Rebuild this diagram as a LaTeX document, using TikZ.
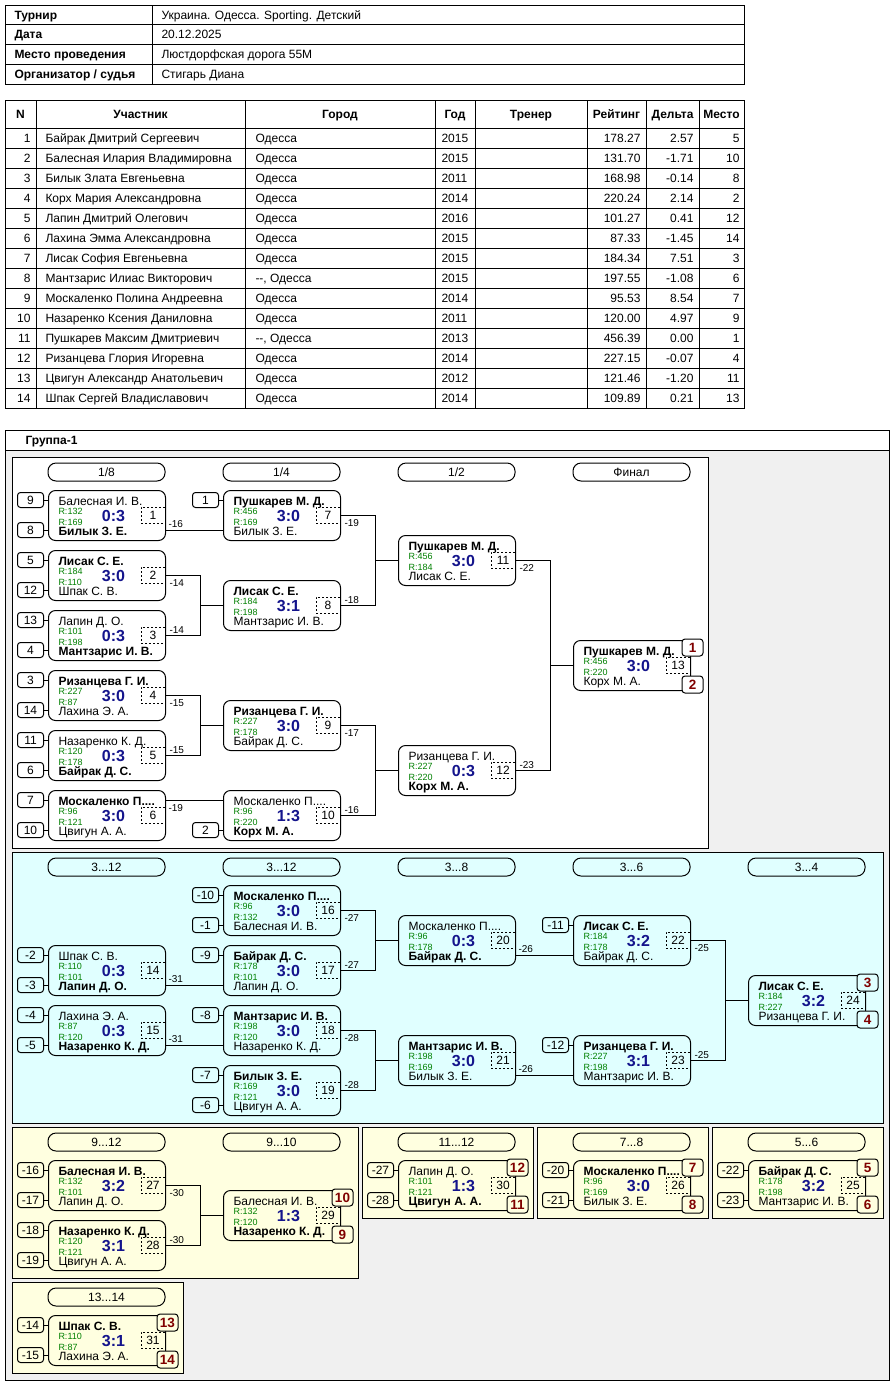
\documentclass[tikz,border=0pt]{standalone}
\usepackage{fontspec}
\setmainfont{Liberation Sans}
\usepackage{xcolor}
\usepackage{tikz}
\usetikzlibrary{positioning}
\definecolor{rgreen}{RGB}{0,128,0}
\definecolor{scoreblue}{RGB}{20,20,140}
\definecolor{placered}{RGB}{128,0,0}
\definecolor{cyanbg}{RGB}{224,255,255}
\definecolor{yellowbg}{RGB}{255,255,224}
\definecolor{groupbg}{RGB}{240,240,240}
\colorlet{secbg}{white}

% one game: name, x, y, top player, bottom player, rating top, rating bottom, score, game number
\newcommand{\match}[9]{%
  \node[game] (#1) at (#2,#3) {};
  \node[who] (#1-a) at ({#2+10},{#3+15}) {#4};
  \node[rate] (#1-ra) at ({#2+10},{#3+24}) {R:#6};
  \node[rate] (#1-rb) at ({#2+10},{#3+35}) {R:#7};
  \node[score] (#1-sc) at ({#2+65.5},{#3+31.7}) {#8};
  \node[numbox] (#1-no) at ({#2+105},{#3+25}) {#9};
  \node[who] (#1-b) at ({#2+10},{#3+45}) {#5};
  \coordinate (#1-tl) at (#2,{#3+10});
  \coordinate (#1-bl) at (#2,{#3+40});
  \coordinate (#1-tr) at ({#2+117},{#3+10});
  \coordinate (#1-br) at ({#2+117},{#3+40});
}
% entry box in front of a game
\newcommand{\seed}[3]{%
  \node[seedbox, left=4pt of #2] (#1) {#3};
  \draw (#1) -- (#2);
}
% final places at the right corners of a game
\newcommand{\places}[5]{%
  \node[placebox] (#2) at ([xshift=1.5pt,yshift=-7.5pt]#1.north east) {#3};
  \node[placebox] (#4) at ([xshift=1.5pt,yshift=6.5pt]#1.south east) {#5};
}

\begin{document}
\begin{tikzpicture}[
    x=1pt, y=-1pt, line width=1pt,
    game/.style={draw, rounded corners=7pt, anchor=north west, minimum width=117pt, minimum height=50pt, inner sep=0pt},
    who/.style={anchor=base west, inner sep=0pt, font=\fontsize{12}{14}\selectfont},
    rate/.style={anchor=base west, inner sep=0pt, text=rgreen, font=\fontsize{9}{10}\selectfont},
    score/.style={anchor=base, inner sep=0pt, text=scoreblue, font=\fontsize{16}{18}\selectfont\bfseries},
    numbox/.style={draw, dash pattern=on 2pt off 2pt, line width=0.8pt, minimum width=24pt, minimum height=16pt, inner sep=0pt, text height=8.6pt, text depth=0pt, font=\fontsize{12}{14}\selectfont},
    seedbox/.style={draw, rounded corners=3pt, minimum width=26pt, minimum height=15pt, inner sep=0pt, text height=8.6pt, text depth=0pt, font=\fontsize{12}{14}\selectfont},
    placebox/.style={draw, fill=secbg, rounded corners=3pt, minimum width=21pt, minimum height=17pt, inner sep=0pt, text height=9.7pt, text depth=0pt, text=placered, font=\fontsize{13.5}{15}\selectfont\bfseries},
    pill/.style={draw, rounded corners=8pt, minimum width=117pt, minimum height=18pt, inner sep=0pt, text height=8.6pt, text depth=0pt, font=\fontsize{12}{14}\selectfont},
    lbl/.style={anchor=base west, inner sep=0pt, font=\fontsize{10}{11}\selectfont},
    lblup/.style={lbl, xshift=3pt, yshift=2.5pt},
    lbldn/.style={lbl, xshift=3pt, yshift=-11pt},
    cell/.style={inner sep=0pt, font=\fontsize{12}{14}\selectfont},
    head/.style={cell, font=\fontsize{12}{14}\selectfont\bfseries}
]
\useasboundingbox (0,0) rectangle (895,1385);

% tournament header
\draw (5,5) rectangle (744,84);
\foreach \yy in {24.75,44.5,64.25} \draw (5,\yy) -- (744,\yy);
\draw (152,5) -- (152,84);
\foreach \k/\lab/\val in {0/Турнир/Украина. Одесса. Sporting. Детский, 1/Дата/20.12.2025,
    2/Место проведения/Люстдорфская дорога 55М, 3/{Организатор / судья}/Стигарь Диана} {
  \node[head, anchor=base west] (hk\k) at (14,{19.2+19.75*\k}) {\lab};
  \node[cell, anchor=base west] (hv\k) at (161,{19.2+19.75*\k}) {\val};
}

% participants
\draw (5,100) rectangle (744,408);
\foreach \k in {0,...,13} \draw (5,{128+20*\k}) -- (744,{128+20*\k});
\foreach \xx in {36,245,435,475,587,646,699} \draw (\xx,100) -- (\xx,408);
\node[head, anchor=base] (th1) at (20.5,118.3) {N};
\node[head, anchor=base] (th2) at (140.5,118.3) {Участник};
\node[head, anchor=base] (th3) at (340,118.3) {Город};
\node[head, anchor=base] (th4) at (455,118.3) {Год};
\node[head, anchor=base] (th5) at (531,118.3) {Тренер};
\node[head, anchor=base] (th6) at (616.5,118.3) {Рейтинг};
\node[head, anchor=base] (th7) at (672.5,118.3) {Дельта};
\node[head, anchor=base] (th8) at (721.5,118.3) {Место};
\foreach \pnum/\pname/\pcity/\pyear/\prate/\pdelta/\pplace in {
    1/Байрак Дмитрий Сергеевич/Одесса/2015/178.27/2.57/5,
    2/Балесная Илария Владимировна/Одесса/2015/131.70/-1.71/10,
    3/Билык Злата Евгеньевна/Одесса/2011/168.98/-0.14/8,
    4/Корх Мария Александровна/Одесса/2014/220.24/2.14/2,
    5/Лапин Дмитрий Олегович/Одесса/2016/101.27/0.41/12,
    6/Лахина Эмма Александровна/Одесса/2015/87.33/-1.45/14,
    7/Лисак София Евгеньевна/Одесса/2015/184.34/7.51/3,
    8/Мантзарис Илиас Викторович/{-{}-, Одесса}/2015/197.55/-1.08/6,
    9/Москаленко Полина Андреевна/Одесса/2014/95.53/8.54/7,
    10/Назаренко Ксения Даниловна/Одесса/2011/120.00/4.97/9,
    11/Пушкарев Максим Дмитриевич/{-{}-, Одесса}/2013/456.39/0.00/1,
    12/Ризанцева Глория Игоревна/Одесса/2014/227.15/-0.07/4,
    13/Цвигун Александр Анатольевич/Одесса/2012/121.46/-1.20/11,
    14/Шпак Сергей Владиславович/Одесса/2014/109.89/0.21/13} {
  \node[cell, anchor=base east] (pn\pnum) at (31,{122.3+20*\pnum}) {\pnum};
  \node[cell, anchor=base west] (pw\pnum) at (45,{122.3+20*\pnum}) {\pname};
  \node[cell, anchor=base west] (pc\pnum) at (255,{122.3+20*\pnum}) {\pcity};
  \node[cell, anchor=base west] (py\pnum) at (441,{122.3+20*\pnum}) {\pyear};
  \node[cell, anchor=base east] (pr\pnum) at (641,{122.3+20*\pnum}) {\prate};
  \node[cell, anchor=base east] (pd\pnum) at (694,{122.3+20*\pnum}) {\pdelta};
  \node[cell, anchor=base east] (pp\pnum) at (740,{122.3+20*\pnum}) {\pplace};
}

% group frame
\fill[groupbg] (5,450) rectangle (889,1380);
\draw (5,430) rectangle (889,1380);
\draw (5,450) -- (889,450);
\node[head, anchor=base west] (grp) at (25,444.5) {Группа-1};

% main bracket
\draw[fill=white] (12,457) rectangle (708,848);
\node[pill] (r18) at (106.5,472) {1/8};
\node[pill] (r14) at (281.5,472) {1/4};
\node[pill] (r12) at (456.5,472) {1/2};
\node[pill] (rfin) at (631.5,472) {Финал};

\match{m1}{48}{490}{Балесная И. В.}{\bfseries Билык З. Е.}{132}{169}{0:3}{1}
\match{m2}{48}{550}{\bfseries Лисак С. Е.}{Шпак С. В.}{184}{110}{3:0}{2}
\match{m3}{48}{610}{Лапин Д. О.}{\bfseries Мантзарис И. В.}{101}{198}{0:3}{3}
\match{m4}{48}{670}{\bfseries Ризанцева Г. И.}{Лахина Э. А.}{227}{87}{3:0}{4}
\match{m5}{48}{730}{Назаренко К. Д.}{\bfseries Байрак Д. С.}{120}{178}{0:3}{5}
\match{m6}{48}{790}{\bfseries Москаленко П....}{Цвигун А. А.}{96}{121}{3:0}{6}
\match{m7}{223}{490}{\bfseries Пушкарев М. Д.}{Билык З. Е.}{456}{169}{3:0}{7}
\match{m8}{223}{580}{\bfseries Лисак С. Е.}{Мантзарис И. В.}{184}{198}{3:1}{8}
\match{m9}{223}{700}{\bfseries Ризанцева Г. И.}{Байрак Д. С.}{227}{178}{3:0}{9}
\match{m10}{223}{790}{Москаленко П....}{\bfseries Корх М. А.}{96}{220}{1:3}{10}
\match{m11}{398}{535}{\bfseries Пушкарев М. Д.}{Лисак С. Е.}{456}{184}{3:0}{11}
\match{m12}{398}{745}{Ризанцева Г. И.}{\bfseries Корх М. А.}{227}{220}{0:3}{12}
\match{m13}{573}{640}{\bfseries Пушкарев М. Д.}{Корх М. А.}{456}{220}{3:0}{13}

\seed{sd9}{m1-tl}{9}   \seed{sd8}{m1-bl}{8}
\seed{sd5}{m2-tl}{5}   \seed{sd12}{m2-bl}{12}
\seed{sd13}{m3-tl}{13} \seed{sd4}{m3-bl}{4}
\seed{sd3}{m4-tl}{3}   \seed{sd14}{m4-bl}{14}
\seed{sd11}{m5-tl}{11} \seed{sd6}{m5-bl}{6}
\seed{sd7}{m6-tl}{7}   \seed{sd10}{m6-bl}{10}
\seed{sd1}{m7-tl}{1}   \seed{sd2}{m10-bl}{2}

\draw (m1-br) node[lblup] {-16} -- (m7-bl);
\draw (m2.east) node[lbldn] {-14} -- ++(34,0) |- (m8.west);
\draw (m3.east) node[lblup] {-14} -- ++(34,0) |- (m8.west);
\draw (m4.east) node[lbldn] {-15} -- ++(34,0) |- (m9.west);
\draw (m5.east) node[lblup] {-15} -- ++(34,0) |- (m9.west);
\draw (m6-tr) node[lbldn] {-19} -- (m10-tl);
\draw (m7.east) node[lbldn] {-19} -- ++(34,0) |- (m11.west);
\draw (m8.east) node[lblup] {-18} -- ++(34,0) |- (m11.west);
\draw (m9.east) node[lbldn] {-17} -- ++(34,0) |- (m12.west);
\draw (m10.east) node[lblup] {-16} -- ++(34,0) |- (m12.west);
\draw (m11.east) node[lbldn] {-22} -- ++(34,0) |- (m13.west);
\draw (m12.east) node[lblup] {-23} -- ++(34,0) |- (m13.west);
\places{m13}{pl1}{1}{pl2}{2}

% places 3..12
\colorlet{secbg}{cyanbg}
\draw[fill=cyanbg] (12,852) rectangle (883,1123);
\node[pill] (c1) at (106.5,867) {3...12};
\node[pill] (c2) at (281.5,867) {3...12};
\node[pill] (c3) at (456.5,867) {3...8};
\node[pill] (c4) at (631.5,867) {3...6};
\node[pill] (c5) at (806.5,867) {3...4};

\match{m14}{48}{945}{Шпак С. В.}{\bfseries Лапин Д. О.}{110}{101}{0:3}{14}
\match{m15}{48}{1005}{Лахина Э. А.}{\bfseries Назаренко К. Д.}{87}{120}{0:3}{15}
\match{m16}{223}{885}{\bfseries Москаленко П....}{Балесная И. В.}{96}{132}{3:0}{16}
\match{m17}{223}{945}{\bfseries Байрак Д. С.}{Лапин Д. О.}{178}{101}{3:0}{17}
\match{m18}{223}{1005}{\bfseries Мантзарис И. В.}{Назаренко К. Д.}{198}{120}{3:0}{18}
\match{m19}{223}{1065}{\bfseries Билык З. Е.}{Цвигун А. А.}{169}{121}{3:0}{19}
\match{m20}{398}{915}{Москаленко П....}{\bfseries Байрак Д. С.}{96}{178}{0:3}{20}
\match{m21}{398}{1035}{\bfseries Мантзарис И. В.}{Билык З. Е.}{198}{169}{3:0}{21}
\match{m22}{573}{915}{\bfseries Лисак С. Е.}{Байрак Д. С.}{184}{178}{3:2}{22}
\match{m23}{573}{1035}{\bfseries Ризанцева Г. И.}{Мантзарис И. В.}{227}{198}{3:1}{23}
\match{m24}{748}{975}{\bfseries Лисак С. Е.}{Ризанцева Г. И.}{184}{227}{3:2}{24}

\seed{sdm2}{m14-tl}{-2}   \seed{sdm3}{m14-bl}{-3}
\seed{sdm4}{m15-tl}{-4}   \seed{sdm5}{m15-bl}{-5}
\seed{sdm10}{m16-tl}{-10} \seed{sdm1}{m16-bl}{-1}
\seed{sdm9}{m17-tl}{-9}
\seed{sdm8}{m18-tl}{-8}
\seed{sdm7}{m19-tl}{-7}   \seed{sdm6}{m19-bl}{-6}
\seed{sdm11}{m22-tl}{-11}
\seed{sdm12}{m23-tl}{-12}

\draw (m14-br) node[lblup] {-31} -- (m17-bl);
\draw (m15-br) node[lblup] {-31} -- (m18-bl);
\draw (m16.east) node[lbldn] {-27} -- ++(34,0) |- (m20.west);
\draw (m17.east) node[lblup] {-27} -- ++(34,0) |- (m20.west);
\draw (m18.east) node[lbldn] {-28} -- ++(34,0) |- (m21.west);
\draw (m19.east) node[lblup] {-28} -- ++(34,0) |- (m21.west);
\draw (m20-br) node[lblup] {-26} -- (m22-bl);
\draw (m21-br) node[lblup] {-26} -- (m23-bl);
\draw (m22.east) node[lbldn] {-25} -- ++(34,0) |- (m24.west);
\draw (m23.east) node[lblup] {-25} -- ++(34,0) |- (m24.west);
\places{m24}{pl3}{3}{pl4}{4}

% small classification brackets
\colorlet{secbg}{yellowbg}
\draw[fill=yellowbg] (12,1127) rectangle (358,1278);
\draw[fill=yellowbg] (362,1127) rectangle (533,1218);
\draw[fill=yellowbg] (537,1127) rectangle (708,1218);
\draw[fill=yellowbg] (712,1127) rectangle (883,1218);
\draw[fill=yellowbg] (12,1282) rectangle (183,1373);
\node[pill] (y1) at (106.5,1142) {9...12};
\node[pill] (y2) at (281.5,1142) {9...10};
\node[pill] (y3) at (456.5,1142) {11...12};
\node[pill] (y4) at (631.5,1142) {7...8};
\node[pill] (y5) at (806.5,1142) {5...6};
\node[pill] (y6) at (106.5,1297) {13...14};

\match{m27}{48}{1160}{\bfseries Балесная И. В.}{Лапин Д. О.}{132}{101}{3:2}{27}
\match{m28}{48}{1220}{\bfseries Назаренко К. Д.}{Цвигун А. А.}{120}{121}{3:1}{28}
\match{m29}{223}{1190}{Балесная И. В.}{\bfseries Назаренко К. Д.}{132}{120}{1:3}{29}
\match{m30}{398}{1160}{Лапин Д. О.}{\bfseries Цвигун А. А.}{101}{121}{1:3}{30}
\match{m26}{573}{1160}{\bfseries Москаленко П....}{Билык З. Е.}{96}{169}{3:0}{26}
\match{m25}{748}{1160}{\bfseries Байрак Д. С.}{Мантзарис И. В.}{178}{198}{3:2}{25}
\match{m31}{48}{1315}{\bfseries Шпак С. В.}{Лахина Э. А.}{110}{87}{3:1}{31}

\seed{sdm16}{m27-tl}{-16} \seed{sdm17}{m27-bl}{-17}
\seed{sdm18}{m28-tl}{-18} \seed{sdm19}{m28-bl}{-19}
\seed{sdm27}{m30-tl}{-27} \seed{sdm28}{m30-bl}{-28}
\seed{sdm20}{m26-tl}{-20} \seed{sdm21}{m26-bl}{-21}
\seed{sdm22}{m25-tl}{-22} \seed{sdm23}{m25-bl}{-23}
\seed{sdm14}{m31-tl}{-14} \seed{sdm15}{m31-bl}{-15}

\draw (m27.east) node[lbldn] {-30} -- ++(34,0) |- (m29.west);
\draw (m28.east) node[lblup] {-30} -- ++(34,0) |- (m29.west);
\places{m29}{pl10}{10}{pl9}{9}
\places{m30}{pl12}{12}{pl11}{11}
\places{m26}{pl7}{7}{pl8}{8}
\places{m25}{pl5}{5}{pl6}{6}
\places{m31}{pl13}{13}{pl14}{14}
\end{tikzpicture}
\end{document}
